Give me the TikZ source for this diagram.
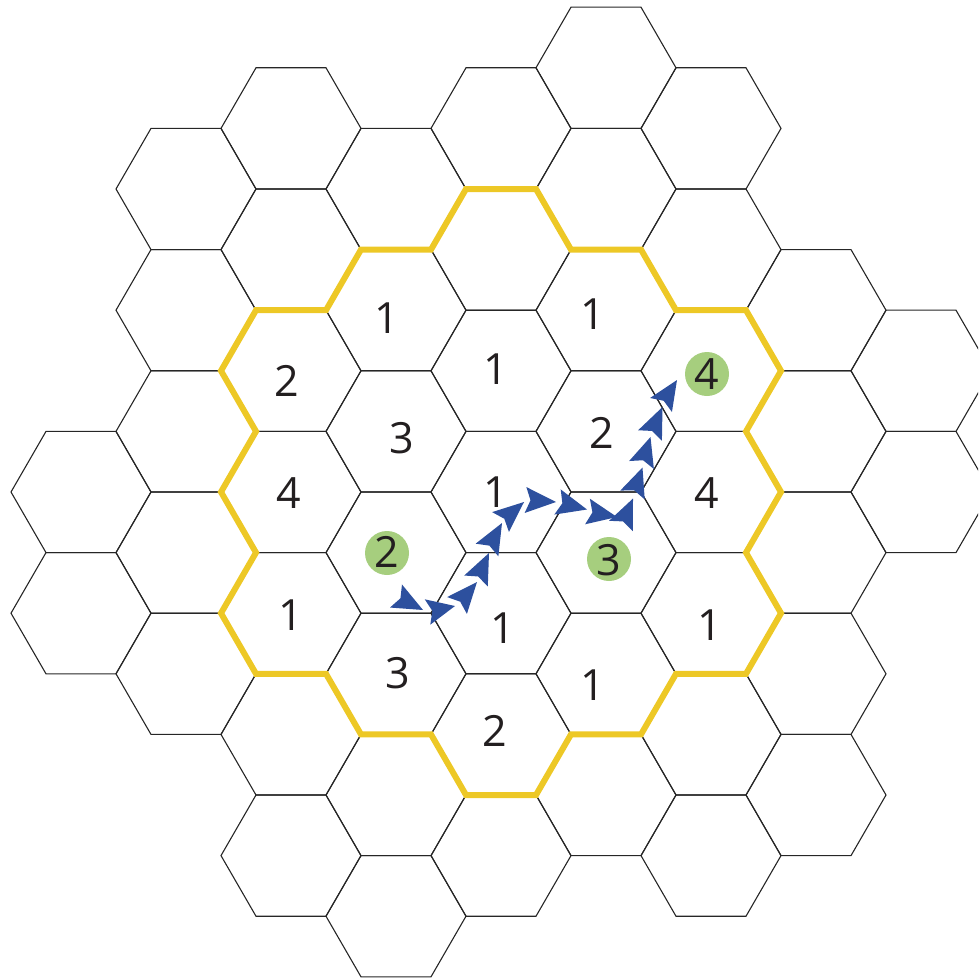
\documentclass[tikz,border=0pt]{standalone}
\usepackage{fontspec}
\setmainfont{Open Sans}
\usetikzlibrary{calc}
\definecolor{hexyellow}{RGB}{237,200,38}
\definecolor{pathblue}{RGB}{45,80,158}
\definecolor{dotgreen}{RGB}{166,206,126}
\definecolor{ink}{RGB}{35,31,32}
\tikzset{
  hexline/.style={draw=black!85, line width=1.1pt, line join=miter},
  ring/.style={draw=hexyellow, line width=6pt, line join=miter},
  num/.style={inner sep=0pt, text=ink, font=\fontsize{43}{43}\selectfont},
  dot/.style={circle, fill=dotgreen, minimum size=44pt, inner sep=0pt},
  arrowhd/.style={fill=pathblue},
}
\newcommand\ahd[2]{\fill[arrowhd] (#2) -- ($(#1)!13pt!90:(#2)$) -- ($(#1)!5pt!(#2)$) -- ($(#1)!13pt!-90:(#2)$) -- cycle;}
\begin{document}
\begin{tikzpicture}[x=1pt,y=-1pt]
\useasboundingbox (0,0) rectangle (978,980);
\clip (0,0) rectangle (978,980);
% hex grid
\foreach \c/\r in {-4/6,-4/8,
  -3/1,-3/3,-3/5,-3/7,-3/9,
  -2/0,-2/2,-2/4,-2/6,-2/8,-2/10,-2/12,
  -1/1,-1/3,-1/5,-1/7,-1/9,-1/11,-1/13,
  0/0,0/2,0/4,0/6,0/8,0/10,0/12,
  1/-1,1/1,1/3,1/5,1/7,1/9,1/11,
  2/0,2/2,2/4,2/6,2/8,2/10,2/12,
  3/3,3/5,3/7,3/9,3/11,
  4/4,4/6}{
  \draw[hexline, shift={({501+105*(\c)},{128.4+60.6*(\r)})}]
    (70,0) -- (35,60.62) -- (-35,60.62) -- (-70,0) -- (-35,-60.62) -- (35,-60.62) -- cycle;
}
% yellow ring
\draw[ring] (466,189) -- (536,189) -- (571,249.6) -- (641,249.6) -- (676,310.2) -- (746,310.2)
  -- (781,370.8) -- (746,431.4) -- (781,492) -- (746,552.6) -- (781,613.2) -- (746,673.8)
  -- (676,673.8) -- (641,734.4) -- (571,734.4) -- (536,795) -- (466,795) -- (431,734.4)
  -- (361,734.4) -- (326,673.8) -- (256,673.8) -- (221,613.2) -- (256,552.6) -- (221,492)
  -- (256,431.4) -- (221,370.8) -- (256,310.2) -- (326,310.2) -- (361,249.6) -- (431,249.6) -- cycle;
% green dots
\node[dot] (g2) at (387,553) {};
\node[dot] (g3) at (609,559) {};
\node[dot] (g4) at (707,374) {};
% numbers
\node[num] (n1) at (387,318) {1};
\node[num] (n2) at (593,314) {1};
\node[num] (n3) at (287,381) {2};
\node[num] (n4) at (496,369) {1};
\node[num] (n5) at (707,374) {4};
\node[num] (n6) at (402,438) {3};
\node[num] (n7) at (602,433) {2};
\node[num] (n8) at (289,493) {4};
\node[num] (n9) at (496,492) {1};
\node[num] (n10) at (707,493) {4};
\node[num] (n11) at (387,552) {2};
\node[num] (n12) at (609,560) {3};
\node[num] (n13) at (291,615) {1};
\node[num] (n14) at (503,628) {1};
\node[num] (n15) at (710,625) {1};
\node[num] (n16) at (398,673) {3};
\node[num] (n17) at (593,685) {1};
\node[num] (n18) at (495,731) {2};
% arrow path
\coordinate (b1) at (396,596);   \coordinate (t1) at (423,610);
\coordinate (b2) at (427.5,612); \coordinate (t2) at (455,606);
\coordinate (b3) at (457,605.5); \coordinate (t3) at (477,582);
\coordinate (b4) at (476,581);   \coordinate (t4) at (489,553);
\coordinate (b5) at (487,550);   \coordinate (t5) at (502,523);
\coordinate (b6) at (500.5,522); \coordinate (t6) at (524,502);
\coordinate (b7) at (525.5,500); \coordinate (t7) at (556,502);
\coordinate (b8) at (557.5,502); \coordinate (t8) at (587,509.5);
\coordinate (b9) at (587.5,511.5); \coordinate (t9) at (617,517);
\coordinate (b10) at (621,526);  \coordinate (t10) at (633,498.5);
\coordinate (b11) at (632.5,495); \coordinate (t11) at (642.5,467.5);
\coordinate (b12) at (641.5,465); \coordinate (t12) at (650.5,437);
\coordinate (b13) at (650,435.5); \coordinate (t13) at (662.5,407);
\coordinate (b14) at (661,405);  \coordinate (t14) at (677,380);
\foreach \i in {1,...,14}{\ahd{b\i}{t\i}}
\end{tikzpicture}
\end{document}
